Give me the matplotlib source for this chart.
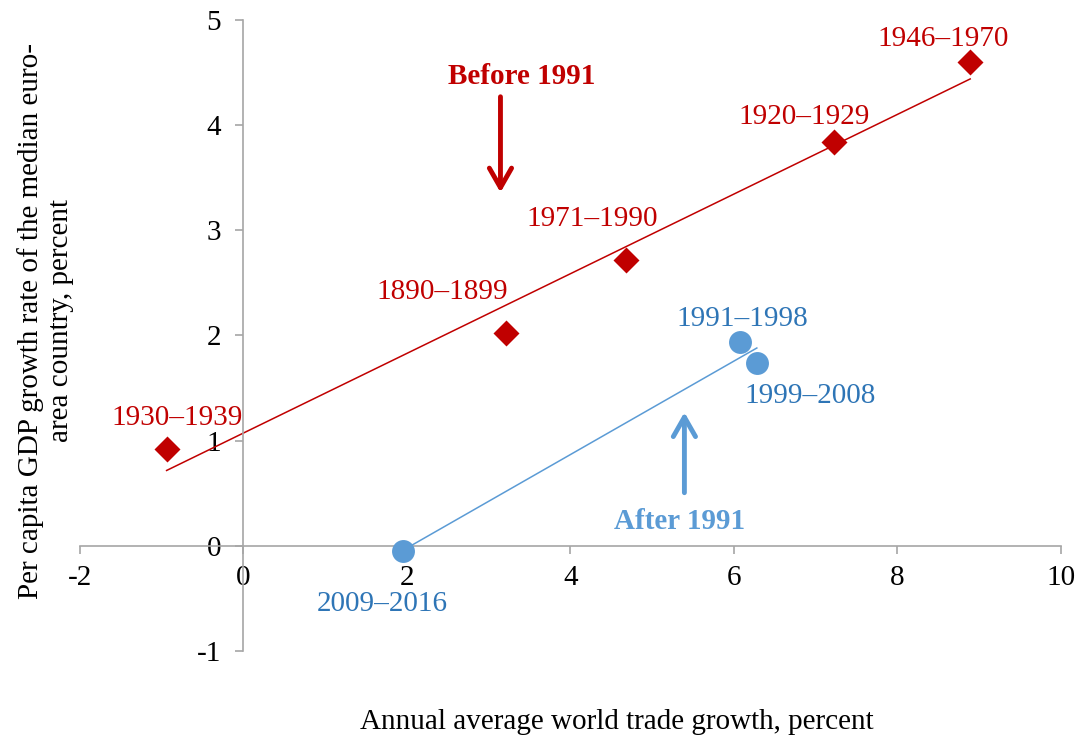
import numpy as np
import matplotlib
matplotlib.use("Agg")
import matplotlib.pyplot as plt

plt.rcParams['font.family'] = ['Liberation Serif', 'DejaVu Serif']

# before 1991
before_labels = ["1930\u20131939", "1890\u20131899", "1971\u20131990", "1920\u20131929", "1946\u20131970"]
before_x = [-0.94, 3.21, 4.68, 7.23, 8.89]
before_y = [0.92, 2.02, 2.72, 3.84, 4.60]
# after 1991
after_labels = ["1991\u20131998", "1999\u20132008", "2009\u20132016"]
after_x = [6.08, 6.28, 1.95]
after_y = [1.94, 1.74, -0.05]

xticks = [-2, 0, 2, 4, 6, 8, 10]
yticks = [-1, 0, 1, 2, 3, 4, 5]

red = "#C00000"
blue = "#5B9BD5"
blue_txt = "#2E75B6"
fs = 21

fig = plt.figure(figsize=(10.76, 7.41), dpi=100)
ax = fig.add_axes([0.0743, 0.1215, 0.9117, 0.8515])
ax.set_xlim(-2, 10)
ax.set_ylim(-1, 5)

for s in ["top", "right"]:
    ax.spines[s].set_visible(False)
ax.spines["left"].set_position(("data", 0))
ax.spines["bottom"].set_position(("data", 0))
for s in ["left", "bottom"]:
    ax.spines[s].set_color("#A6A6A6")
    ax.spines[s].set_linewidth(1.2)
ax.set_xticks(xticks)
ax.set_yticks(yticks)
ax.set_xticklabels([str(t) for t in xticks])
ax.set_yticklabels([str(t) for t in yticks])
ax.tick_params(axis="both", direction="out", length=6, width=1.2, color="#A6A6A6",
               labelsize=fs, labelcolor="black")
ax.tick_params(axis="x", pad=8)
ax.tick_params(axis="y", pad=10)

# trend lines
bx = np.array(before_x)
k, b = np.polyfit(bx, before_y, 1)
xs = np.array([bx.min(), bx.max()])
ax.plot(xs, k * xs + b, color=red, lw=1.1, zorder=2)
axx = np.array(after_x)
k2, b2 = np.polyfit(axx, after_y, 1)
xs2 = np.array([axx.min(), axx.max()])
ax.plot(xs2, k2 * xs2 + b2, color=blue, lw=1.1, zorder=2)

ax.plot(before_x, before_y, "D", color=red, ms=13, mec="none", zorder=3, clip_on=False)
ax.plot(after_x, after_y, "o", color=blue, ms=16.5, mec="none", zorder=3, clip_on=False)

before_off = [(11, 31), (-64, 41), (-34, 41), (-30, 25), (-27, 23)]
for lab, x, y, off in zip(before_labels, before_x, before_y, before_off):
    ax.annotate(lab, (x, y), xytext=off, textcoords="offset pixels",
                ha="center", va="center", fontsize=fs, color=red)
after_off = [(2, 23), (53, -33), (-21, -53)]
for lab, x, y, off in zip(after_labels, after_x, after_y, after_off):
    ax.annotate(lab, (x, y), xytext=off, textcoords="offset pixels",
                ha="center", va="center", fontsize=fs, color=blue_txt)

# arrows and group labels
astyle = "->, head_length=1.4, head_width=0.8"
ax.annotate("", xy=(3.144, 3.36), xytext=(3.144, 4.27),
            arrowprops=dict(arrowstyle=astyle, color=red, lw=3.5, shrinkA=0, shrinkB=0))
ax.text(3.40, 4.46, "Before 1991", ha="center", va="center", fontsize=fs,
        fontweight="bold", color=red)
ax.annotate("", xy=(5.394, 1.27), xytext=(5.394, 0.505),
            arrowprops=dict(arrowstyle=astyle, color=blue, lw=3.5, shrinkA=0, shrinkB=0))
ax.text(5.333, 0.229, "After 1991", ha="center", va="center", fontsize=fs,
        fontweight="bold", color=blue)

fig.text(0.573, 0.026, "Annual average world trade growth, percent", ha="center",
         va="center", fontsize=fs)
# y label, two lines
fig.text(0.028, 0.567, "Per capita GDP growth rate of the median euro-",
         rotation=90, ha="center", va="center", fontsize=fs)
fig.text(0.057, 0.567, "area country, percent",
         rotation=90, ha="center", va="center", fontsize=fs)

fig.savefig("out.png", dpi=100)
